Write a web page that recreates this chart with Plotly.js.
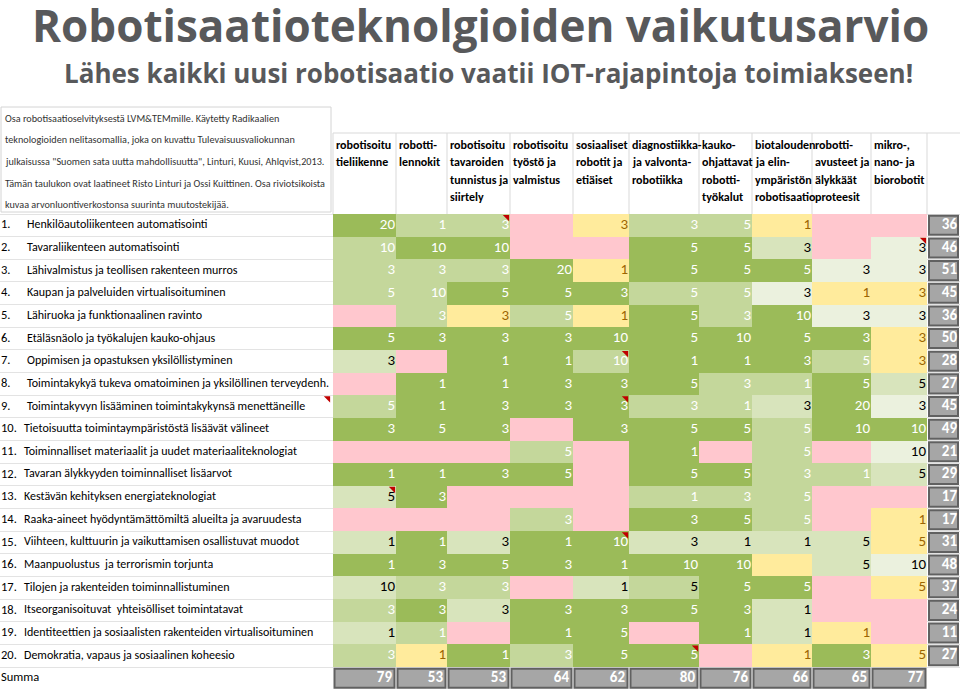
<!DOCTYPE html>
<html><head><meta charset="utf-8">
<script src="https://cdn.plot.ly/plotly-3.0.1.min.js"></script>
<style>html,body{margin:0;padding:0;background:#fff}</style>
</head><body><div id="chart" style="width:960px;height:690px"></div>
<script>
// ---------------- DATA ----------------
const chartTitle = 'Robotisaatioteknolgioiden vaikutusarvio';
const chartSubtitle = 'Lähes kaikki uusi robotisaatio vaatii IOT-rajapintoja toimiakseen!';
const noteLines = [
  'Osa robotisaatioselvityksestä LVM&TEMmille. Käytetty Radikaalien',
  'teknologioiden nelitasomallia, joka on kuvattu Tulevaisuusvaliokunnan',
  'julkaisussa "Suomen sata uutta mahdollisuutta", Linturi, Kuusi, Ahlqvist,2013.',
  'Tämän taulukon ovat laatineet Risto Linturi ja Ossi Kuittinen. Osa riviotsikoista',
  'kuvaa arvonluontiverkostonsa suurinta muutostekijää.'
];
const columnHeaders = [
  ['robotisoitu','tieliikenne'],
  ['robotti-','lennokit'],
  ['robotisoitu','tavaroiden','tunnistus ja','siirtely'],
  ['robotisoitu','työstö ja','valmistus'],
  ['sosiaaliset','robotit ja','etiäiset'],
  ['diagnostiikka-','ja valvonta-','robotiikka'],
  ['kauko-','ohjattavat','robotti-','työkalut'],
  ['biotalouden','ja elin-','ympäristön','robotisaatio'],
  ['robotti-','avusteet ja','älykkäät','proteesit'],
  ['mikro-,','nano- ja','biorobotit']
];
const rowNumbers = ['1.','2.','3.','4.','5.','6.','7.','8.','9.','10.','11.','12.','13.','14.','15.','16.','17.','18.','19.','20.'];
const rowLabels = [
  'Henkilöautoliikenteen automatisointi',
  'Tavaraliikenteen automatisointi',
  'Lähivalmistus ja teollisen rakenteen murros',
  'Kaupan ja palveluiden virtualisoituminen',
  'Lähiruoka ja funktionaalinen ravinto',
  'Etäläsnäolo ja työkalujen kauko-ohjaus',
  'Oppimisen ja opastuksen yksilöllistyminen',
  'Toimintakykyä tukeva omatoiminen ja yksilöllinen terveydenh.',
  'Toimintakyvyn lisääminen toimintakykynsä menettäneille',
  'Tietoisuutta toimintaympäristöstä lisäävät välineet',
  'Toiminnalliset materiaalit ja uudet materiaaliteknologiat',
  'Tavaran älykkyyden toiminnalliset lisäarvot',
  'Kestävän kehityksen energiateknologiat',
  'Raaka-aineet hyödyntämättömiltä alueilta ja avaruudesta',
  'Viihteen, kulttuurin ja vaikuttamisen osallistuvat muodot',
  'Maanpuolustus  ja terrorismin torjunta',
  'Tilojen ja rakenteiden toiminnallistuminen',
  'Itseorganisoituvat  yhteisölliset toimintatavat',
  'Identiteettien ja sosiaalisten rakenteiden virtualisoituminen',
  'Demokratia, vapaus ja sosiaalinen koheesio'
];
const sumLabel = 'Summa';
// cell values, null = empty cell
const values = [
  [20,1,3,null,3,3,5,1,null,null],
  [10,10,10,null,null,5,5,3,null,3],
  [3,3,3,20,1,5,5,5,3,3],
  [5,10,5,5,3,5,5,3,1,3],
  [null,3,3,5,1,5,3,10,3,3],
  [5,3,3,3,10,5,10,5,3,3],
  [3,null,1,1,10,1,1,3,5,3],
  [null,1,1,3,3,5,3,1,5,5],
  [5,1,3,3,3,3,1,3,20,3],
  [3,5,3,null,3,5,5,5,10,10],
  [null,null,null,5,null,1,null,5,null,10],
  [1,1,3,5,null,5,5,3,1,5],
  [5,3,null,null,null,1,3,5,null,null],
  [null,null,null,3,null,3,5,5,null,1],
  [1,1,3,1,10,3,1,1,5,5],
  [1,3,5,3,1,10,10,null,5,10],
  [10,3,3,null,1,5,5,5,null,5],
  [3,3,3,3,3,5,3,1,null,null],
  [1,1,null,1,5,null,1,1,1,null],
  [3,1,1,3,5,5,null,1,3,5]
];
// cell shading class: P pink, Y yellow, V very light green, L light green, M mid green, K mid green (dark text), D dark green
const shades = [
  'DMMPYMMYPP','MDDPPDDLPV','MMMDYDDDVV','MMDDDMMVYY','PMYMYDMDVV',
  'DDDDDDDDDY','LPDDMDDDMY','PDDDDDMMDL','MDDDDMMLDV','DDDPDDDMDD',
  'PPPMPDPMPV','DDDDPDDMML','LDPPPMMMPP','PPPMPDDMPY','LDLDDLLLLY',
  'DDDDDDDYLV','LMMPLKDDPY','MDLDDDDLPP','LMPDDPDLYP','MYDMDDPYDY'
];
const rowTotals = [36,46,51,45,36,50,28,27,45,49,21,29,17,17,31,48,37,24,11,27];
const columnTotals = [79,53,53,64,62,80,76,66,65,77];
// cells carrying an Excel comment marker [row, column]; column -1 = row label
const commentCells = [[0,2],[1,9],[6,4],[8,4],[8,-1],[12,0],[14,4],[19,5]];

// ---------------- LAYOUT / STYLE ----------------
const W = 960, H = 690;
const colEdges = [333,396,447,510,573,629,699,752,812,871,927];
const sumCol = {left: 929, right: 958};
const rowTopPx = 214, rowH = 22.65;           // pixel geometry of the grid
const yTop = -rowTopPx / rowH - 0.5;          // axis value at pixel 0
const yBot = yTop + H / rowH;                 // axis value at pixel H
const paperY = px => 1 - px / H;
const calibri = "'Liberation Sans Narrow', 'Arial Narrow', Carlito, Lato, sans-serif";
const shadeOrder = ['P','Y','V','L','M','K','D'];
const shadeFill = {P:'#ffc7ce',Y:'#ffeb9c',V:'#ebf1de',L:'#d8e4bc',M:'#c4d79b',K:'#c4d79b',D:'#9bbb59'};
const shadeInk  = {P:'#9c0006',Y:'#9c6500',V:'#000000',L:'#000000',M:'#ffffff',K:'#000000',D:'#ffffff'};
const headerLinePx = [145, 162.5, 180, 197.5];
const noteLinePx = [118, 139, 161, 183, 204];

const nR = rowLabels.length, nC = columnHeaders.length;
const colorscale = [];
shadeOrder.forEach((s,k) => { colorscale.push([k/shadeOrder.length, shadeFill[s]]); colorscale.push([(k+1)/shadeOrder.length, shadeFill[s]]); });

const z = shades.map(row => row.split('').map(ch => shadeOrder.indexOf(ch)));
const rowEdges = []; for (let i = 0; i <= nR; i++) rowEdges.push(i - 0.5);

const heat = {
  type: 'heatmap', x: colEdges, y: rowEdges, z: z,
  zmin: 0, zmax: shadeOrder.length - 1, colorscale: colorscale,
  showscale: false, hoverinfo: 'skip'
};

// cell numbers
const tx = [], ty = [], tt = [], tc = [];
values.forEach((row, r) => row.forEach((v, c) => {
  if (v === null) return;
  tx.push(colEdges[c+1] - 1); ty.push(r); tt.push(String(v)); tc.push(shadeInk[shades[r][c]]);
}));
const cellText = {
  type: 'scatter', mode: 'text', x: tx, y: ty, text: tt, textposition: 'middle left',
  textfont: {family: calibri, size: 15, color: tc}, hoverinfo: 'skip', cliponaxis: false
};

// grey total cells (row totals + column totals)
const bx = [], bb = [], bw = [];
rowTotals.forEach((v, r) => { bx.push((sumCol.left + sumCol.right) / 2); bb.push(r - 0.42); bw.push(sumCol.right - sumCol.left); });
columnTotals.forEach((v, c) => { bx.push((colEdges[c] + colEdges[c+1]) / 2); bb.push(nR - 0.42); bw.push(colEdges[c+1] - colEdges[c] - 3); });
const totalBars = {
  type: 'bar', x: bx, y: bx.map(() => 0.84), base: bb, width: bw,
  marker: {color: '#a6a6a6', line: {color: '#616161', width: 2}}, hoverinfo: 'skip'
};
const totX = [], totY = [], totT = [];
rowTotals.forEach((v, r) => { totX.push(sumCol.right - 1); totY.push(r); totT.push('<b>' + v + '</b>'); });
columnTotals.forEach((v, c) => { totX.push(colEdges[c+1] - 4); totY.push(nR); totT.push('<b>' + v + '</b>'); });
const totalText = {
  type: 'scatter', mode: 'text', x: totX, y: totY, text: totT, textposition: 'middle left',
  textfont: {family: calibri, size: 15, color: '#ffffff'}, hoverinfo: 'skip', cliponaxis: false
};

// row labels
const numText = {
  type: 'scatter', mode: 'text', x: rowNumbers.map(() => 1).concat([1]), y: rowNumbers.map((_, i) => i).concat([nR]),
  text: rowNumbers.concat([sumLabel]), textposition: 'middle right',
  textfont: {family: calibri, size: 12.5, color: '#000000'}, hoverinfo: 'skip', cliponaxis: false
};
const labelText = {
  type: 'scatter', mode: 'text', x: rowLabels.map((_, i) => i < 9 ? 27 : 24), y: rowLabels.map((_, i) => i),
  text: rowLabels, textposition: 'middle right',
  textfont: {family: calibri, size: 12, color: '#000000'}, hoverinfo: 'skip', cliponaxis: false
};

// comment markers
const comments = {
  type: 'scatter', mode: 'markers',
  x: commentCells.map(([r, c]) => (c < 0 ? 331 : colEdges[c+1]) - 3),
  y: commentCells.map(([r, c]) => r - 0.5 + 0.14),
  marker: {symbol: 'triangle-ne', size: 7, color: '#c00000'}, hoverinfo: 'skip', cliponaxis: false
};

// annotations
const annotations = [
  {xref: 'paper', yref: 'paper', x: 0.5, y: 1, xanchor: 'center', yanchor: 'top', yshift: 7, showarrow: false,
   text: '<b>' + chartTitle + '</b>', font: {family: "'Open Sans', sans-serif", size: 44, color: '#58595b'}},
  {xref: 'x', yref: 'paper', x: 488, y: paperY(73), xanchor: 'center', yanchor: 'middle', showarrow: false,
   text: '<b>' + chartSubtitle + '</b>', font: {family: "'Open Sans', sans-serif", size: 26, color: '#58595b'}}
];
noteLines.forEach((t, i) => annotations.push({
  xref: 'x', yref: 'paper', x: 3, y: paperY(noteLinePx[i]), xanchor: 'left', yanchor: 'middle', showarrow: false,
  text: t, font: {family: calibri, size: 10.2, color: '#333333'}
}));
columnHeaders.forEach((lines, c) => lines.forEach((t, k) => annotations.push({
  xref: 'x', yref: 'paper', x: colEdges[c] + 1, y: paperY(headerLinePx[k]), xanchor: 'left', yanchor: 'middle', showarrow: false,
  text: '<b>' + t + '</b>', font: {family: calibri, size: 12, color: '#000000'}
})));

// header frame lines
const shapes = [];
colEdges.forEach(x => shapes.push({type: 'line', xref: 'x', yref: 'paper', x0: x, x1: x, y0: paperY(133), y1: paperY(rowTopPx), line: {color: '#d9d9d9', width: 1}, layer: 'below'}));
shapes.push({type: 'line', xref: 'x', yref: 'paper', x0: colEdges[0], x1: W, y0: paperY(133), y1: paperY(133), line: {color: '#d9d9d9', width: 1}, layer: 'below'});
shapes.push({type: 'rect', xref: 'x', yref: 'paper', x0: 1, x1: 331, y0: paperY(107), y1: paperY(212), line: {color: '#d4d4d4', width: 1}, layer: 'below'});

const layout = {
  width: W, height: H, margin: {l: 0, r: 0, t: 0, b: 0},
  paper_bgcolor: '#ffffff', plot_bgcolor: '#ffffff', showlegend: false, barmode: 'overlay',
  xaxis: {range: [0, W], visible: false, fixedrange: true},
  yaxis: {range: [yBot, yTop], fixedrange: true, showticklabels: false, ticks: '', zeroline: false,
          tickmode: 'array', tickvals: rowEdges.concat([nR + 0.5]), showgrid: true, gridcolor: '#e3e3e3', gridwidth: 1},
  annotations: annotations, shapes: shapes
};

Plotly.newPlot('chart', [heat, totalBars, cellText, totalText, numText, labelText, comments], layout, {staticPlot: true, displayModeBar: false});
</script>
</body></html>
